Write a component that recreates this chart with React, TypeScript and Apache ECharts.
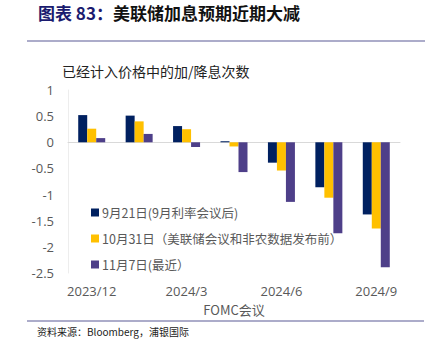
import React, { useEffect, useRef } from "react";
import * as echarts from "echarts";

const categories = ["2023/12", "2024/1", "2024/3", "2024/5", "2024/6", "2024/7", "2024/9"];
const seriesNames = [
  "9月21日(9月利率会议后)",
  "10月31日（美联储会议和非农数据发布前）",
  "11月7日(最近）",
];
const sep21 = [0.52, 0.51, 0.31, 0.02, -0.39, -0.86, -1.38];
const oct31 = [0.26, 0.4, 0.25, -0.08, -0.54, -1.06, -1.65];
const nov7 = [0.08, 0.16, -0.09, -0.57, -1.14, -1.74, -2.39];
const colors = ["#002060", "#FFC000", "#4E3F89"];

export default function App() {
  const ref = useRef<HTMLDivElement>(null);
  useEffect(() => {
    document.body.style.margin = "0";
    const chart = echarts.init(ref.current!, null, { renderer: "svg" });
    const cjk = "'Noto Sans CJK SC', sans-serif";
    chart.setOption({
      animation: false,
      color: colors,
      grid: { left: 68, right: 38, top: 90, bottom: 73, containLabel: false },
      legend: {
        orient: "vertical",
        left: 86,
        top: 199,
        itemWidth: 8,
        itemHeight: 8,
        itemGap: 9,
        icon: "rect",
        data: seriesNames,
        textStyle: { color: "#595959", fontSize: 12.5, fontFamily: cjk, lineHeight: 17, padding: [0, 0, 0, -2] },
      },
      xAxis: [
        {
          type: "category",
          data: categories,
          axisLine: { onZero: true, lineStyle: { color: "#D9D9D9", width: 1 } },
          axisTick: { show: false },
          axisLabel: { show: false },
        },
        {
          type: "category",
          data: categories,
          position: "bottom",
          axisLine: { show: false, onZero: false },
          axisTick: { show: false },
          axisLabel: {
            interval: 1,
            margin: 11,
            color: "#595959",
            fontSize: 13,
            fontFamily: "'Open Sans', sans-serif",
          },
          name: "FOMC会议",
          nameLocation: "middle",
          nameGap: 30,
          nameTextStyle: { color: "#595959", fontSize: 13, fontFamily: cjk },
        },
      ],
      yAxis: {
        type: "value",
        min: -2.5,
        max: 1,
        interval: 0.5,
        axisLine: { show: true, lineStyle: { color: "#EDEDED" } },
        axisTick: { show: false },
        splitLine: { show: false },
        axisLabel: { color: "#595959", fontSize: 13, margin: 14, fontFamily: "'Open Sans', sans-serif" },
      },
      graphic: [
        {
          type: "text",
          left: 38,
          top: 4,
          style: {
            text: "{a|图表 83：}{b|美联储加息预期近期大减}",
            rich: {
              a: { fontSize: 17, fontWeight: "bold", fill: "#1B1B6F", fontFamily: cjk },
              b: { fontSize: 17, fontWeight: "bold", fill: "#111111", fontFamily: cjk },
            },
          },
        },
        {
          type: "line",
          shape: { x1: 27, y1: 41, x2: 425, y2: 41 },
          style: { stroke: "#9191B9", lineWidth: 1.5 },
        },
        {
          type: "text",
          left: 62,
          top: 64,
          style: { text: "已经计入价格中的加/降息次数", fontSize: 14, fill: "#222222", fontFamily: cjk },
        },
        {
          type: "line",
          shape: { x1: 27, y1: 321, x2: 424, y2: 321 },
          style: { stroke: "#9191B9", lineWidth: 1.5 },
        },
        {
          type: "text",
          left: 37,
          top: 326,
          style: { text: "资料来源：Bloomberg，浦银国际", fontSize: 10, fill: "#222222", fontFamily: cjk },
        },
      ],
      series: [
        { name: seriesNames[0], type: "bar", data: sep21, barWidth: 9, barGap: "0%" },
        { name: seriesNames[1], type: "bar", data: oct31, barWidth: 9, barGap: "0%" },
        { name: seriesNames[2], type: "bar", data: nov7, barWidth: 9, barGap: "0%" },
      ],
    });
    return () => chart.dispose();
  }, []);
  return <div ref={ref} style={{ width: 438, height: 346, position: "absolute", left: 0, top: 0 }} />;
}
